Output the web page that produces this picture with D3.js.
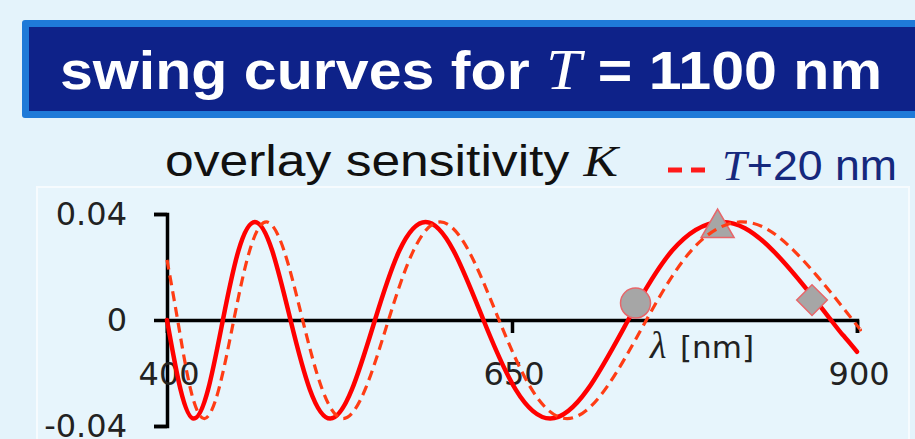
<!DOCTYPE html>
<html>
<head>
<meta charset="utf-8">
<script src="https://cdn.jsdelivr.net/npm/d3@7"></script>
<style>
  html, body { margin: 0; padding: 0; background: #e4f3fb; }
  svg { display: block; }
</style>
</head>
<body>
<script>
// wavelength [nm] and overlay sensitivity K
var lambdaSolid = [400, 409.8, 419.5, 429.8, 440.5, 451.8, 463.7, 476.2, 489.5, 503.5, 518.3, 534.0,
                   550.7, 568.4, 587.4, 607.6, 629.3, 652.6, 677.7, 704.8, 734.2, 766.1, 801.0, 839.1,
                   881.1, 890, 900]
var kSolid      = [0, -0.0262, -0.0372, -0.0262, 0, 0.0262, 0.037, 0.0262, 0, -0.0262, -0.0372, -0.0262,
                   0, 0.0262, 0.037, 0.0262, 0, -0.0262, -0.0372, -0.0262, 0, 0.0262, 0.037, 0.0262,
                   0, -0.0058, -0.012]

// T + 20 nm
var lambdaDash  = [400, 407.7, 417.1, 427.1, 437.5, 448.4, 459.9, 472.0, 484.8, 498.3, 512.5, 527.6,
                   543.6, 560.5, 578.6, 597.9, 618.5, 640.6, 664.3, 689.9, 717.5, 747.4, 779.9, 815.3,
                   854.2, 896.9, 900]
var kDash       = [0.0227, 0, -0.0262, -0.0372, -0.0262, 0, 0.0262, 0.037, 0.0262, 0, -0.0262, -0.0372,
                   -0.0262, 0, 0.0262, 0.037, 0.0262, 0, -0.0262, -0.0372, -0.0262, 0, 0.0262, 0.037,
                   0.0262, 0, -0.002]

// highlighted points on the solid curve
var markerLambda = [739.5, 799, 867.4]
var markerK      = [0.0064, 0.0347, 0.0075]
var markerShape  = ["circle", "triangle", "diamond"]

var xTicks = [400, 650, 900]
var yTicks = [-0.04, 0, 0.04]
var yTickLabels = ["-0.04", "0", "0.04"]

var W = 915, H = 439
var svg = d3.select("body").append("svg")
    .attr("width", W)
    .attr("height", H)

svg.append("rect")
    .attr("width", W).attr("height", H)
    .style("fill", "#e4f3fb")

// title banner
svg.append("rect")
    .attr("x", 22).attr("y", 20)
    .attr("width", 930).attr("height", 98)
    .attr("rx", 3)
    .style("fill", "#1f7ad8")
svg.append("rect")
    .attr("x", 29).attr("y", 27)
    .attr("width", 920).attr("height", 84)
    .style("fill", "#0e2289")

var title = svg.append("text")
    .attr("x", 60).attr("y", 89)
    .attr("textLength", 822)
    .attr("lengthAdjust", "spacingAndGlyphs")
    .style("font-family", "Liberation Sans, Arial, sans-serif")
    .style("font-weight", "bold")
    .style("font-size", "54px")
    .style("fill", "#ffffff")
title.append("tspan").text("swing curves for ")
title.append("tspan").text("T")
    .style("font-family", "Liberation Serif, Times New Roman, serif")
    .style("font-style", "italic")
    .style("font-weight", "normal")
    .style("font-size", "58px")
title.append("tspan").text(" = 1100 nm")

// plot panel
svg.append("rect")
    .attr("x", 37).attr("y", 187)
    .attr("width", 872).attr("height", 270)
    .style("fill", "#e7f5fc")
    .style("stroke", "#f6fbfe")
    .style("stroke-width", 2)

// subtitle and legend
var sub = svg.append("text")
    .attr("x", 165).attr("y", 176)
    .attr("textLength", 453)
    .attr("lengthAdjust", "spacingAndGlyphs")
    .style("font-family", "Liberation Sans, Arial, sans-serif")
    .style("font-size", "44px")
    .style("fill", "#111111")
sub.append("tspan").text("overlay sensitivity ")
sub.append("tspan").text("K")
    .style("font-family", "Liberation Serif, Times New Roman, serif")
    .style("font-style", "italic")

svg.append("line")
    .attr("x1", 668).attr("x2", 705)
    .attr("y1", 170).attr("y2", 170)
    .style("stroke", "#ff1a1a")
    .style("stroke-width", 5)
    .style("stroke-dasharray", "14,9")

var leg = svg.append("text")
    .attr("x", 722).attr("y", 180)
    .attr("textLength", 175)
    .attr("lengthAdjust", "spacingAndGlyphs")
    .style("font-family", "Liberation Sans, Arial, sans-serif")
    .style("font-size", "42px")
    .style("fill", "#15287d")
leg.append("tspan").text("T")
    .style("font-family", "Liberation Serif, Times New Roman, serif")
    .style("font-style", "italic")
leg.append("tspan").text("+20 nm")

// scales
var x = d3.scaleLinear().domain([400, 900]).range([167, 857])
var y = d3.scaleLinear().domain([-0.04, 0.04]).range([426, 214])

// axes
var yAxis = svg.append("g")
    .attr("transform", "translate(" + x(400) + ",0)")
    .call(d3.axisLeft(y)
        .tickValues(yTicks)
        .tickFormat(function(d, i) { return yTickLabels[i] })
        .tickSize(13)
        .tickPadding(27))
var xAxis = svg.append("g")
    .attr("transform", "translate(0," + y(0) + ")")
    .call(d3.axisBottom(x)
        .tickValues(xTicks)
        .tickFormat(d3.format("d"))
        .tickSize(13)
        .tickPadding(29))

svg.selectAll(".domain, .tick line")
    .style("stroke", "#000000")
    .style("stroke-width", 3.5)
svg.selectAll(".tick text")
    .style("font-family", "DejaVu Sans, sans-serif")
    .style("font-size", "32px")
    .style("fill", "#222222")
xAxis.selectAll(".tick text").attr("dx", "0.05em")

var xl = svg.append("text")
    .attr("x", 650).attr("y", 358)
    .style("font-family", "DejaVu Sans, sans-serif")
    .style("font-size", "31px")
    .style("fill", "#222222")
xl.append("tspan").text("\u03bb")
    .style("font-family", "Liberation Serif, Times New Roman, serif")
    .style("font-style", "italic")
    .style("font-size", "38px")
xl.append("tspan").text("[nm]").attr("x", 680)

// curves
var solid = lambdaSolid.map(function(l, i) { return [l, kSolid[i]] })
var dash  = lambdaDash.map(function(l, i) { return [l, kDash[i]] })

var line = d3.line()
    .x(function(d) { return x(d[0]) })
    .y(function(d) { return y(d[1]) })
    .curve(d3.curveNatural)

svg.append("path")
    .attr("d", line(solid))
    .style("fill", "none")
    .style("stroke", "#ff0000")
    .style("stroke-width", 4.5)
    .style("stroke-linecap", "round")

// markers
var shapes = {
    circle:   { type: d3.symbolCircle,   size: 707, rot: 0 },
    triangle: { type: d3.symbolTriangle, size: 470, rot: 0 },
    diamond:  { type: d3.symbolSquare,   size: 470, rot: 45 }
}
markerLambda.forEach(function(l, i) {
    var s = shapes[markerShape[i]]
    svg.append("path")
        .attr("d", d3.symbol().type(s.type).size(s.size)())
        .attr("transform", "translate(" + x(l) + "," + y(markerK[i]) + ") rotate(" + s.rot + ")")
        .style("fill", "#a6a6a6")
        .style("stroke", "#e8666a")
        .style("stroke-width", 1.5)
})

svg.append("path")
    .attr("d", line(dash))
    .style("fill", "none")
    .style("stroke", "#ff3c14")
    .style("stroke-width", 3.2)
    .style("stroke-dasharray", "10,6")
</script>
</body>
</html>
